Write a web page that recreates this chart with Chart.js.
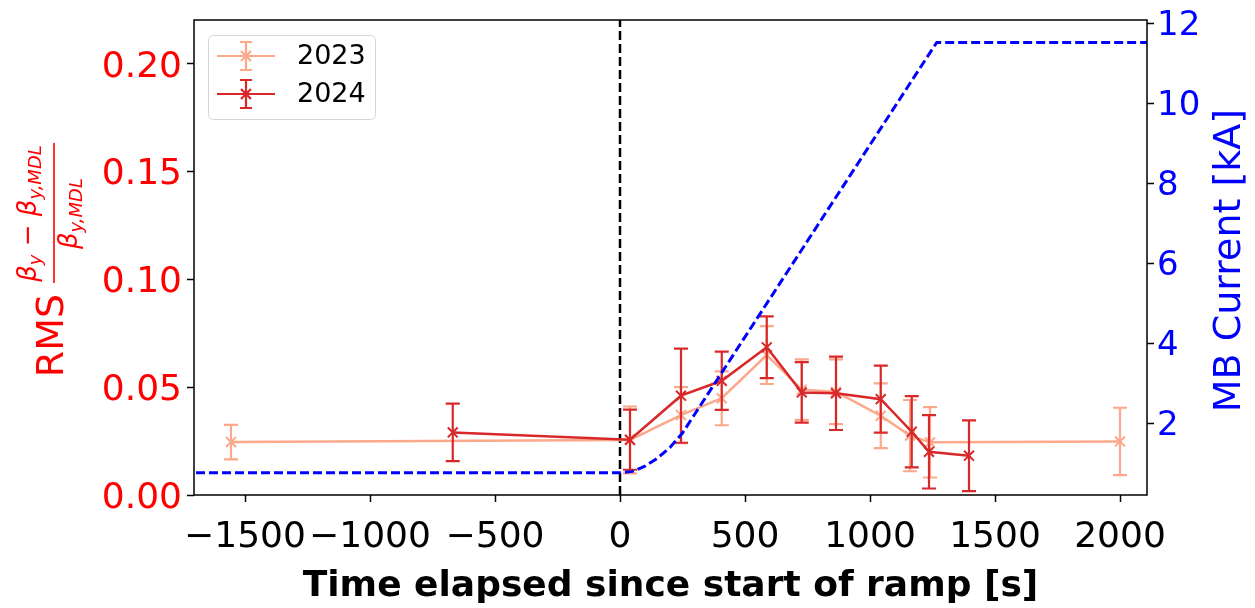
<!DOCTYPE html>
<html>
<head>
<meta charset="utf-8">
<script src="https://cdn.jsdelivr.net/npm/chart.js@4"></script>
<style>
  html, body { margin: 0; padding: 0; background: #fff; }
</style>
</head>
<body>
<canvas id="chart" width="1255" height="608"></canvas>
<script>
// 2023 measurements
const t2023 = [-1556, 40, 244, 407, 587, 727, 864, 1043, 1160, 1240, 2000];
const rms2023 = [0.0245, 0.0255, 0.037, 0.0448, 0.0648, 0.0488, 0.0478, 0.0367, 0.0275, 0.0244, 0.0248];
const err2023 = [0.008, 0.0155, 0.013, 0.0125, 0.0134, 0.014, 0.015, 0.015, 0.0165, 0.0163, 0.0156];

// 2024 measurements
const t2024 = [-669, 40, 244, 407, 587, 727, 864, 1043, 1167, 1236, 1396];
const rms2024 = [0.029, 0.0256, 0.046, 0.0529, 0.0684, 0.0475, 0.0471, 0.0444, 0.0293, 0.020, 0.0182];
const err2024 = [0.0133, 0.0139, 0.0218, 0.0135, 0.0143, 0.014, 0.017, 0.0155, 0.0165, 0.017, 0.0164];

// main bend current during the ramp
const rampT = [-1800, 0, 50, 100, 150, 200, 250, 300, 400, 600, 800, 1000, 1200, 1267, 2200];
const rampI = [0.764, 0.764, 0.80, 0.93, 1.13, 1.40, 1.76, 2.24, 3.20, 5.12, 7.04, 8.96, 10.88, 11.52, 11.52];

const xTicks = [-1500, -1000, -500, 0, 500, 1000, 1500, 2000];
const yTicks = [0, 0.05, 0.10, 0.15, 0.20];
const y2Ticks = [2, 4, 6, 8, 10, 12];

const xMin = -1704, xMax = 2108;
const yMin = 0, yMax = 0.22;
const y2Min = 0.21, y2Max = 12.08;

const col2023 = '#fca88b';
const col2024 = '#d8282a';
const FONT = '"DejaVu Sans"';

const pts = (xs, ys) => xs.map((x, i) => ({ x: x, y: ys[i] }));
const minus = v => (v < 0 ? '\u2212' + Math.abs(v) : String(v));

// error bars, drawn right after their own dataset
const errorBars = {
  id: 'errorBars',
  afterDatasetDraw(chart, args) {
    const ds = chart.data.datasets[args.index];
    if (!ds.errors) return;
    const ctx = chart.ctx, xs = chart.scales.x, ys = chart.scales.y;
    ctx.save();
    ctx.strokeStyle = ds.borderColor;
    ctx.lineWidth = 2.2;
    ds.data.forEach((p, i) => {
      const px = xs.getPixelForValue(p.x);
      const top = ys.getPixelForValue(p.y + ds.errors[i]);
      const bot = ys.getPixelForValue(p.y - ds.errors[i]);
      ctx.beginPath();
      ctx.moveTo(px, top); ctx.lineTo(px, bot);
      ctx.moveTo(px - 7, top); ctx.lineTo(px + 7, top);
      ctx.moveTo(px - 7, bot); ctx.lineTo(px + 7, bot);
      ctx.stroke();
    });
    ctx.restore();
  }
};

function drawRuns(ctx, runs, centerU, v) {
  // runs: [text, size, italic, dv]
  let w = 0;
  runs.forEach(r => {
    ctx.font = (r[2] ? 'italic ' : '') + r[1] + 'px ' + FONT;
    r.w = ctx.measureText(r[0]).width;
    w += r.w;
  });
  let u = centerU - w / 2;
  ctx.textAlign = 'left';
  runs.forEach(r => {
    ctx.font = (r[2] ? 'italic ' : '') + r[1] + 'px ' + FONT;
    ctx.fillText(r[0], u, v + r[3]);
    u += r.w;
  });
}

const decorations = {
  id: 'decorations',
  afterDraw(chart) {
    const ctx = chart.ctx, a = chart.chartArea;
    ctx.save();
    // frame
    ctx.strokeStyle = '#000';
    ctx.lineWidth = 1.5;
    ctx.strokeRect(a.left, a.top, a.right - a.left, a.bottom - a.top);

    // legend
    ctx.beginPath();
    ctx.roundRect(208.5, 35.5, 167, 84, 5);
    ctx.fillStyle = 'rgba(255,255,255,0.85)';
    ctx.fill();
    ctx.strokeStyle = '#d6d6d6';
    ctx.lineWidth = 1;
    ctx.stroke();
    [['2023', col2023], ['2024', col2024]].forEach((e, i) => {
      const y = 56 + i * 38, cx = 246;
      ctx.strokeStyle = e[1];
      ctx.lineWidth = 2.2;
      ctx.beginPath();
      ctx.moveTo(217, y); ctx.lineTo(275, y);
      ctx.moveTo(cx, y - 14); ctx.lineTo(cx, y + 14);
      ctx.moveTo(cx - 6, y - 14); ctx.lineTo(cx + 6, y - 14);
      ctx.moveTo(cx - 6, y + 14); ctx.lineTo(cx + 6, y + 14);
      ctx.moveTo(cx - 5, y - 5); ctx.lineTo(cx + 5, y + 5);
      ctx.moveTo(cx - 5, y + 5); ctx.lineTo(cx + 5, y - 5);
      ctx.stroke();
      ctx.fillStyle = '#000';
      ctx.font = '27px ' + FONT;
      ctx.textAlign = 'left';
      ctx.textBaseline = 'middle';
      ctx.fillText(e[0], 297, y + 1);
    });

    // rotated axis titles
    ctx.textBaseline = 'alphabetic';
    ctx.rotate(-Math.PI / 2);
    ctx.fillStyle = '#ff0000';
    ctx.font = '38px ' + FONT;
    ctx.textAlign = 'center';
    ctx.fillText('RMS', -335.5, 63);
    drawRuns(ctx, [['\u03b2', 26, true, 0], ['y', 18, true, 5], [' \u2212 ', 26, false, 0],
                   ['\u03b2', 26, true, 0], ['y,MDL', 18, true, 5]], -213.5, 36);
    drawRuns(ctx, [['\u03b2', 26, true, 0], ['y,MDL', 18, true, 5]], -213.5, 77);
    ctx.fillRect(-283, 53.2, 140, 1.6);

    ctx.fillStyle = '#0000ff';
    ctx.font = '38px ' + FONT;
    ctx.textAlign = 'center';
    ctx.fillText('MB Current [kA]', -260.5, 1240);
    ctx.restore();
  }
};

new Chart(document.getElementById('chart'), {
  type: 'scatter',
  data: {
    datasets: [
      {
        label: 'MB current',
        data: pts(rampT, rampI),
        yAxisID: 'y2',
        showLine: true,
        borderColor: '#0000ff',
        borderWidth: 3,
        borderDash: [9, 4],
        pointRadius: 0,
        order: 0
      },
      {
        label: '2024',
        data: pts(t2024, rms2024),
        errors: err2024,
        yAxisID: 'y',
        showLine: true,
        borderColor: col2024,
        borderWidth: 2.5,
        pointStyle: 'crossRot',
        pointRadius: 7,
        pointBorderWidth: 2,
        pointBorderColor: col2024,
        order: 1
      },
      {
        label: '2023',
        data: pts(t2023, rms2023),
        errors: err2023,
        yAxisID: 'y',
        showLine: true,
        borderColor: col2023,
        borderWidth: 2.5,
        pointStyle: 'crossRot',
        pointRadius: 7,
        pointBorderWidth: 2,
        pointBorderColor: col2023,
        order: 2
      },
      {
        label: 'ramp start',
        data: [{ x: 0, y: yMin }, { x: 0, y: yMax }],
        yAxisID: 'y',
        showLine: true,
        borderColor: '#000',
        borderWidth: 2.5,
        borderDash: [9, 4],
        pointRadius: 0,
        order: 3
      }
    ]
  },
  options: {
    responsive: false,
    animation: false,
    devicePixelRatio: 1,
    layout: { padding: { top: 20, left: 0, right: 0, bottom: 0 } },
    plugins: { legend: { display: false }, tooltip: { enabled: false } },
    scales: {
      x: {
        type: 'linear',
        position: 'bottom',
        min: xMin,
        max: xMax,
        afterBuildTicks: s => { s.ticks = xTicks.map(v => ({ value: v })); },
        afterFit: s => { s.height = 113; s.paddingLeft = 0; s.paddingRight = 0; },
        grid: { drawOnChartArea: false, tickLength: 7, tickColor: '#000', tickWidth: 1.5 },
        border: { display: false },
        ticks: {
          color: '#000', font: { family: 'DejaVu Sans', size: 36 }, padding: 14,
          maxRotation: 0, autoSkip: false, callback: v => minus(v)
        },
        title: {
          display: true, text: 'Time elapsed since start of ramp [s]', color: '#000',
          font: { family: 'DejaVu Sans', size: 36, weight: 'bold' }, padding: { top: 0, bottom: 0 }
        }
      },
      y: {
        type: 'linear',
        position: 'left',
        min: yMin,
        max: yMax,
        afterBuildTicks: s => { s.ticks = yTicks.map(v => ({ value: v })); },
        afterFit: s => { s.width = 194; s.paddingTop = 0; s.paddingBottom = 0; },
        grid: { drawOnChartArea: false, tickLength: 7, tickColor: '#000', tickWidth: 1.5 },
        border: { display: false },
        ticks: {
          color: '#ff0000', font: { family: 'DejaVu Sans', size: 36 }, padding: 5,
          labelOffset: 4, callback: v => v.toFixed(2)
        }
      },
      y2: {
        type: 'linear',
        position: 'right',
        min: y2Min,
        max: y2Max,
        afterBuildTicks: s => { s.ticks = y2Ticks.map(v => ({ value: v })); },
        afterFit: s => { s.width = 108; s.paddingTop = 0; s.paddingBottom = 0; },
        grid: { drawOnChartArea: false, tickLength: 7, tickColor: '#000', tickWidth: 1.5 },
        border: { display: false },
        ticks: {
          color: '#0000ff', font: { family: 'DejaVu Sans', size: 34 }, padding: 3,
          labelOffset: 3, callback: v => String(v)
        }
      }
    }
  },
  plugins: [errorBars, decorations]
});
</script>
</body>
</html>
